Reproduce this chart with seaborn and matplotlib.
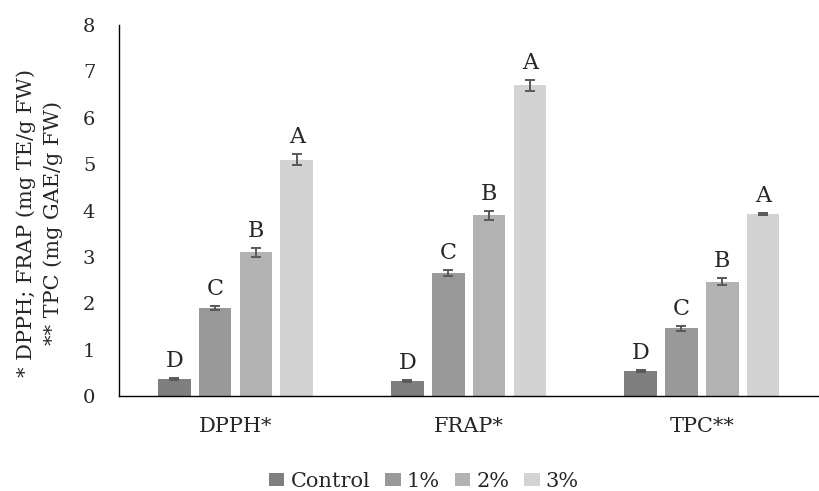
import matplotlib
matplotlib.use("Agg")
import matplotlib.pyplot as plt
import seaborn as sns
import pandas as pd
import numpy as np

categories = ["DPPH*", "FRAP*", "TPC**"]
series = ["Control", "1%", "2%", "3%"]
values = {
    "Control": [0.38, 0.32, 0.55],
    "1%": [1.90, 2.66, 1.46],
    "2%": [3.10, 3.90, 2.47],
    "3%": [5.10, 6.70, 3.93],
}
errors = {
    "Control": [0.02, 0.02, 0.02],
    "1%": [0.05, 0.07, 0.05],
    "2%": [0.09, 0.10, 0.07],
    "3%": [0.11, 0.12, 0.02],
}
letters = {
    "Control": ["D", "D", "D"],
    "1%": ["C", "C", "C"],
    "2%": ["B", "B", "B"],
    "3%": ["A", "A", "A"],
}
colors = ["#7f7f7f", "#999999", "#b2b2b2", "#d3d3d3"]

sns.set_style("white")
plt.rcParams["font.family"] = ["DejaVu Serif"]

rows = []
for s in series:
    for c, v in zip(categories, values[s]):
        rows.append({"cat": c, "series": s, "value": v})
df = pd.DataFrame(rows)

fig = plt.figure(figsize=(8.2, 4.91), dpi=100)
ax = fig.add_axes([0.145, 0.193, 0.853, 0.756])
sns.barplot(data=df, x="cat", y="value", hue="series", order=categories,
            hue_order=series, palette=colors, width=0.7, gap=0.2,
            errorbar=None, ax=ax, saturation=1, linewidth=0)

for s, container in zip(series, ax.containers):
    for i, bar in enumerate(container):
        xc = bar.get_x() + bar.get_width() / 2
        h = bar.get_height()
        e = errors[s][i]
        ax.errorbar(xc, h, yerr=e, fmt="none", ecolor="#595959",
                    elinewidth=1.4, capsize=3.8, capthick=1.4)
        ax.text(xc, h + e + 0.13, letters[s][i], ha="center", va="bottom",
                fontsize=16)

ax.set_ylim(0, 8)
ax.set_xlim(-0.5, 2.5)
ax.set_yticks(range(0, 9))
ax.tick_params(axis="y", labelsize=14, length=0, pad=17)
ax.tick_params(axis="x", labelsize=15, length=0, pad=15)
ax.set_xlabel("")
ax.set_ylabel("* DPPH; FRAP (mg TE/g FW)\n** TPC (mg GAE/g FW)",
              fontsize=15, linespacing=1.45)
ax.yaxis.set_label_coords(-0.080, 0.468)
for sp in ["top", "right"]:
    ax.spines[sp].set_visible(False)
ax.spines["left"].set_color("black")
ax.spines["bottom"].set_color("black")
ax.spines["left"].set_linewidth(1.0)
ax.spines["bottom"].set_linewidth(1.0)

handles, labels = ax.get_legend_handles_labels()
ax.legend(handles, labels, loc="upper center", bbox_to_anchor=(0.436, -0.153),
          ncol=4, frameon=False, fontsize=15, handlelength=0.75,
          handleheight=0.65, handletextpad=0.3, columnspacing=0.7)

fig.savefig("out.png", dpi=100)
